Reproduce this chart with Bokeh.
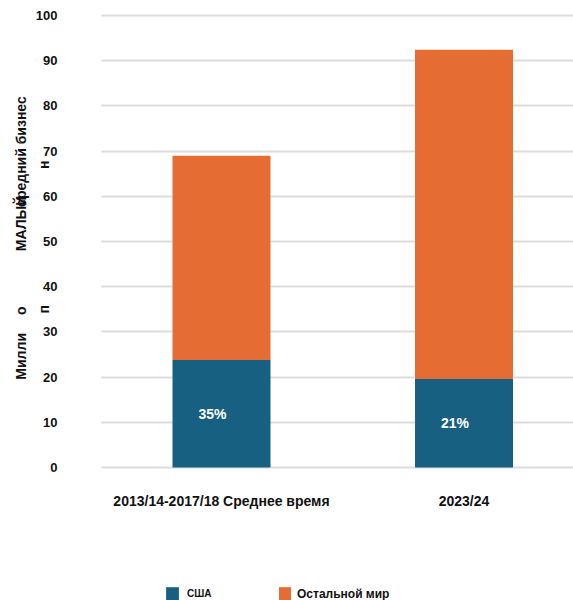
from bokeh.plotting import figure
from bokeh.models import (ColumnDataSource, Range1d, FixedTicker, Legend, LegendItem, Label)
from bokeh.core.properties import value
from bokeh.embed import file_html
from bokeh.resources import INLINE

# ---- data ----
categories = ["2013/14-2017/18 Среднее время", "2023/24"]
usa = [23.8, 19.6]
rest_of_world = [45.2, 72.8]
usa_share_labels = ["35%", "21%"]
series_names = ["США", "Остальной мир"]
y_ticks = [0, 10, 20, 30, 40, 50, 60, 70, 80, 90, 100]
# the y-axis title is rendered garbled in the reference: pieces in two columns
y_title_pieces = ["Милли", "о", "МАЛЫЙ", "и", "средний бизнес", "п", "н"]

FONT = "Liberation Sans"
BLUE = "#176082"
ORANGE = "#e56d33"
TXT = "#111111"

# layout (style) constants
X0, X1 = -0.9113, 1.4515      # canvas spans this x data range
Y0, Y1 = -29.42, 103.32       # canvas spans this y data range
FRAME_LEFT = -0.4948          # where the value axis / grid begins

xs = list(range(len(categories)))
source = ColumnDataSource(dict(
    x=xs,
    usa=usa,
    rest=rest_of_world,
    mid=[u / 2 for u in usa],
    pct=usa_share_labels,
))

p = figure(width=573, height=600, output_backend="svg", toolbar_location=None,
           x_range=Range1d(X0, X1), y_range=Range1d(Y0, Y1),
           min_border=0, min_border_left=0, min_border_right=0,
           min_border_top=0, min_border_bottom=0)
p.outline_line_color = None
p.background_fill_color = "white"
p.border_fill_color = "white"

renderers = p.vbar_stack(["usa", "rest"], x="x", width=0.404, source=source,
                         color=[BLUE, ORANGE], line_color=None)

p.text(x="x", y="mid", text="pct", source=source, text_color="white",
       text_font=value(FONT), text_font_style="bold", text_font_size="14px",
       text_align="center", text_baseline="middle", x_offset=-9)

# grid
p.xgrid.grid_line_color = None
p.ygrid.grid_line_color = "#dcdcdc"
p.ygrid.grid_line_width = 2
p.ygrid.ticker = FixedTicker(ticks=y_ticks)
try:
    p.ygrid.cross_bounds = (FRAME_LEFT, X1)
except Exception:
    pass

def plain(ax):
    ax.axis_line_color = None
    ax.major_tick_line_color = None
    ax.minor_tick_line_color = None
    ax.major_tick_out = 0
    ax.major_tick_in = 0
    ax.minor_tick_out = 0

ya = p.yaxis[0]
plain(ya)
ya.fixed_location = FRAME_LEFT
ya.ticker = FixedTicker(ticks=y_ticks)
ya.major_label_standoff = 44
ya.major_label_text_font = FONT
ya.major_label_text_font_style = "bold"
ya.major_label_text_font_size = "13px"
ya.major_label_text_color = TXT

xa = p.xaxis[0]
plain(xa)
xa.fixed_location = 0
xa.ticker = FixedTicker(ticks=xs)
xa.major_label_overrides = {i: c for i, c in zip(xs, categories)}
xa.major_label_standoff = 25
xa.major_label_text_font = FONT
xa.major_label_text_font_style = "bold"
xa.major_label_text_font_size = "14px"
xa.major_label_text_color = TXT

# y-axis title pieces (screen x of baseline, data y of centre)
title_layout = [(20, 24.6), (20, 34.7), (20, 54.0), (20, 59.0), (20, 69.9),
                (43, 35.0), (43, 67.0)]
for txt, (sx, dy) in zip(y_title_pieces, title_layout):
    p.add_layout(Label(x=sx, y=dy, x_units="screen", y_units="data", text=txt,
                       angle=90, angle_units="deg", text_align="center",
                       text_baseline="alphabetic", text_font=FONT,
                       text_font_style="bold", text_font_size="14px",
                       text_color=TXT))

# legends (two, since their labels have different sizes)
leg_specs = [((164, -2), 16, 7, "10px"), ((277, -2), 15, 5, "12px")]
for r, name, (loc, gw, st, fs) in zip(renderers, series_names, leg_specs):
    lg = Legend(items=[LegendItem(label=name, renderers=[r])], location=loc,
                orientation="horizontal", glyph_width=gw, glyph_height=17,
                label_height=17, label_standoff=st, padding=0, margin=0,
                border_line_color=None, background_fill_alpha=0,
                label_text_font=FONT, label_text_font_style="bold",
                label_text_font_size=fs, label_text_color=TXT)
    p.add_layout(lg, "center")

open("out.html", "w").write(file_html(p, INLINE))
